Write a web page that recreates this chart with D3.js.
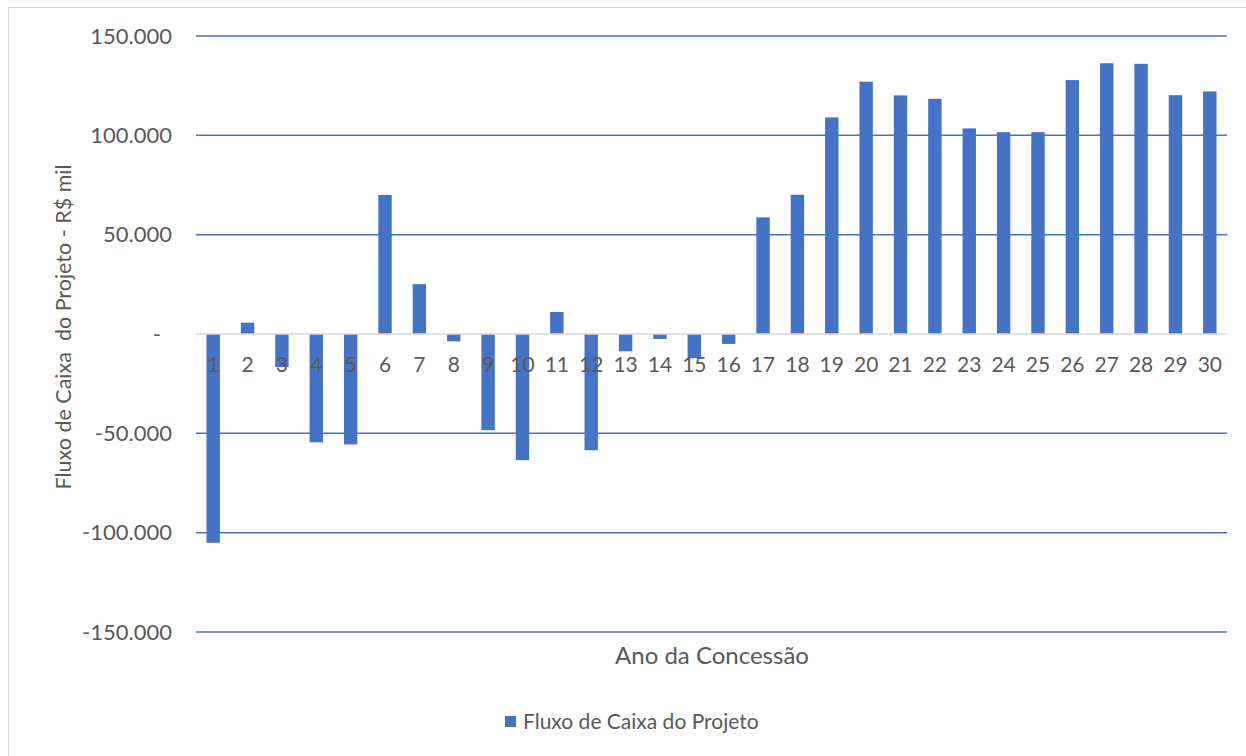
<!DOCTYPE html>
<html>
<head>
<meta charset="utf-8">
<script src="https://cdn.jsdelivr.net/npm/d3@7"></script>
<style>
  html, body { margin: 0; padding: 0; background: #fff; }
  svg { display: block; }
  text { font-family: Lato, "Open Sans", sans-serif; fill: #595959; white-space: pre; }
</style>
</head>
<body>
<svg id="chart" width="1246" height="756"></svg>
<script>
const categories = d3.range(1, 31).map(String);
const values = [
  -105100, 5700, -16600, -54500, -55600, 70000, 25100, -3700, -48400, -63500,
  11100, -58500, -8700, -2500, -12200, -5000, 58700, 70100, 109000, 127000,
  120100, 118400, 103500, 101600, 101600, 127800, 136300, 136000, 120200, 122100
];
const yTicks = [-150000, -100000, -50000, 0, 50000, 100000, 150000];
const seriesName = "Fluxo de Caixa do Projeto";
const yTitle = "Fluxo de Caixa  do Projeto - R$ mil";
const xTitle = "Ano da Concessão";

const svg = d3.select("#chart");
const blue = "#4472C4";

// chart border
svg.append("rect").attr("x", 8.5).attr("y", 7.5).attr("width", 1250).attr("height", 760)
  .attr("fill", "none").attr("stroke", "#D9D9D9").attr("stroke-width", 1);

const plot = { left: 196, right: 1227, top: 36, bottom: 632 };

const x = d3.scaleBand().domain(categories).range([plot.left, plot.right])
  .paddingInner(0.61).paddingOuter(0.305);
const y = d3.scaleLinear().domain([-150000, 150000]).range([plot.bottom, plot.top]);

const fmt = v => v === 0 ? "-" : (v < 0 ? "-" : "") + d3.format(",")(Math.abs(v)).replace(/,/g, ".");

// gridlines
svg.append("g").selectAll("line").data(yTicks.filter(d => d !== 0)).join("line")
  .attr("x1", plot.left).attr("x2", plot.right)
  .attr("y1", d => y(d)).attr("y2", d => y(d))
  .attr("stroke", blue).attr("stroke-width", 1.5);

// y tick labels
svg.append("g").selectAll("text").data(yTicks).join("text")
  .attr("x", d => d === 0 ? 161 : 172)
  .attr("y", d => y(d))
  .attr("dy", "0.35em")
  .attr("text-anchor", "end")
  .style("font-size", "22px")
  .text(fmt);

// bars
svg.append("g").selectAll("rect").data(values).join("rect")
  .attr("x", (d, i) => x(categories[i]))
  .attr("width", x.bandwidth())
  .attr("y", d => y(Math.max(0, d)))
  .attr("height", d => Math.abs(y(d) - y(0)))
  .attr("fill", blue);

// zero line
svg.append("line").attr("x1", plot.left).attr("x2", plot.right)
  .attr("y1", y(0)).attr("y2", y(0))
  .attr("stroke", "#D9D9D9").attr("stroke-width", 1.5);

// x labels (next to axis)
svg.append("g").selectAll("text").data(categories).join("text")
  .attr("x", d => x(d) + x.bandwidth() / 2)
  .attr("y", y(0) + 38)
  .attr("text-anchor", "middle")
  .style("font-size", "21px")
  .text(d => d);

// axis titles
svg.append("text")
  .attr("transform", `translate(63, 327) rotate(-90)`)
  .attr("text-anchor", "middle")
  .attr("dy", "0.35em")
  .style("font-size", "21.5px")
  .text(yTitle);

svg.append("text")
  .attr("x", 712)
  .attr("y", 656)
  .attr("dy", "0.35em")
  .attr("text-anchor", "middle")
  .style("font-size", "24px")
  .text(xTitle);

// legend
const leg = svg.append("g");
leg.append("rect").attr("x", 505).attr("y", 716).attr("width", 11).attr("height", 11).attr("fill", blue);
leg.append("text").attr("x", 523).attr("y", 722).attr("dy", "0.35em")
  .style("font-size", "21px").text(seriesName);
</script>
</body>
</html>
